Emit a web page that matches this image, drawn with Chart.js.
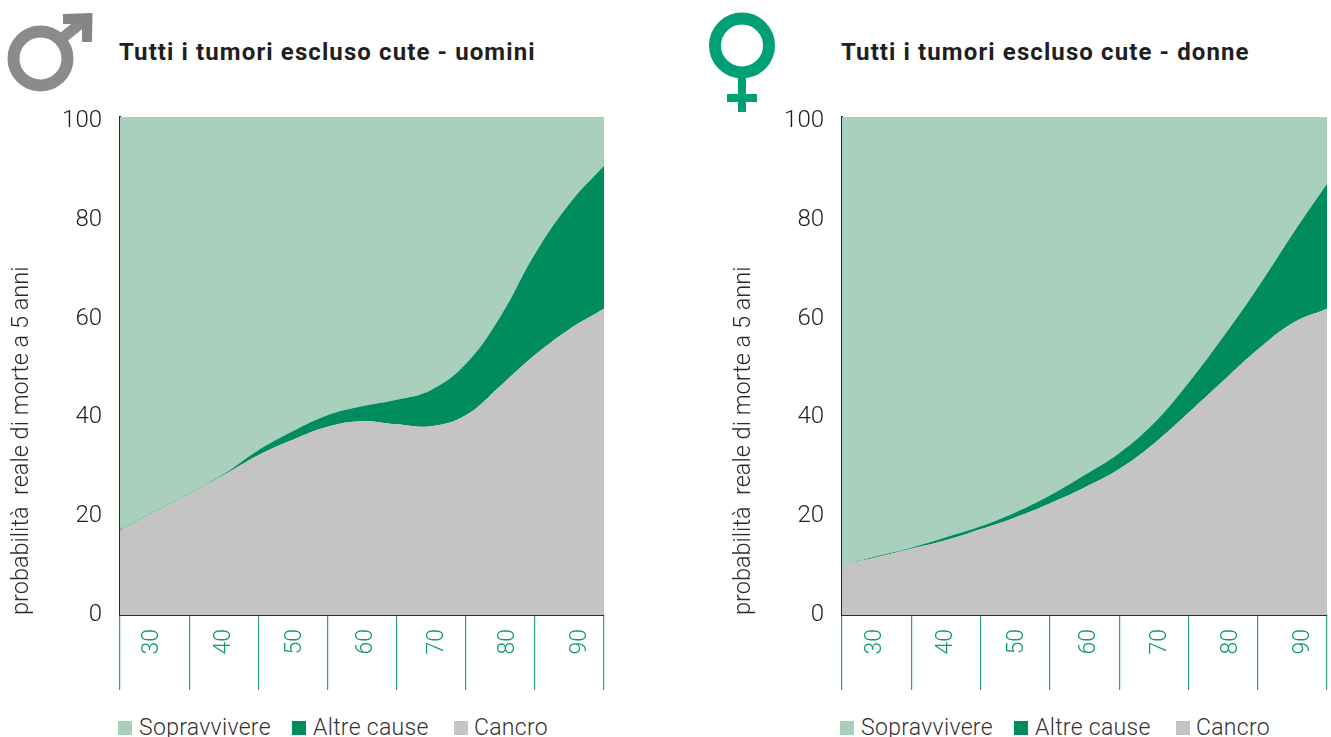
<!DOCTYPE html>
<html>
<head>
<meta charset="utf-8">
<script src="https://cdn.jsdelivr.net/npm/chart.js@4"></script>
<style>
html, body { margin: 0; padding: 0; background: #fff; overflow: hidden; }
body { width: 1331px; height: 737px; position: relative; font-family: Roboto, sans-serif; color: #222; }
canvas, svg, .title, .legend { position: absolute; }
#chartU { left: 1px; top: 0; }
#chartD { left: 723px; top: 0; }
svg { left: 0; top: 0; }
.title { top: 37px; font-size: 24px; font-weight: 700; letter-spacing: 1.1px; white-space: nowrap; line-height: 30px; color: #1f1f1f; }
.legend { top: 713px; font-size: 23px; font-weight: 300; white-space: nowrap; line-height: 30px; color: #333; letter-spacing: 0.3px; }
.legend i { position: absolute; top: 8px; width: 14px; height: 14px; }
.legend span { position: absolute; top: 0; }
</style>
</head>
<body>
<svg width="1331" height="737">
  <!-- male symbol -->
  <g fill="none" stroke="#8a8b8d" stroke-width="12">
    <circle cx="40.5" cy="58.5" r="27"/>
    <line x1="60" y1="40" x2="86" y2="19" stroke-width="11"/>
  </g>
  <polygon points="63,14 92.5,13 92,42 82,42 82,24 63,24" fill="#858684"/>
  <!-- female symbol -->
  <circle cx="742" cy="45.5" r="27" fill="none" stroke="#00a077" stroke-width="12"/>
  <rect x="738" y="78" width="8" height="34" fill="#00a077"/>
  <rect x="727" y="94" width="30" height="8" fill="#00a077"/>
</svg>

<div class="title" style="left:119px">Tutti i tumori escluso cute - uomini</div>
<div class="title" style="left:841px">Tutti i tumori escluso cute - donne</div>

<canvas id="chartU" width="610" height="690" style="width:610px;height:690px"></canvas>
<canvas id="chartD" width="611" height="690" style="width:611px;height:690px"></canvas>

<div class="legend" id="legendU" style="left:0"></div>
<div class="legend" id="legendD" style="left:0"></div>

<script>
const ages = [25, 30, 35, 40, 45, 50, 55, 60, 65, 70, 75, 80, 85, 90, 95];
const ageTicks = [25, 35, 45, 55, 65, 75, 85, 95];
const ageLabels = [30, 40, 50, 60, 70, 80, 90];
const yTicks = [0, 20, 40, 60, 80, 100];

const cancroU = [17.0, 20.7, 24.3, 28.1, 32.1, 35.2, 37.8, 38.9, 38.3, 37.9, 40.1, 46.0, 52.2, 57.4, 61.5];
const altreU = [0.1, 0.1, 0.1, 0.2, 1.0, 1.7, 2.3, 3.0, 4.9, 7.3, 10.3, 13.9, 20.3, 25.2, 28.7];
const soprU = [82.9, 79.2, 75.6, 71.7, 66.9, 63.1, 59.9, 58.1, 56.8, 54.8, 49.6, 40.1, 27.5, 17.4, 9.8];

const cancroD = [10.0, 11.6, 13.3, 15.0, 17.2, 19.6, 22.4, 25.6, 29.3, 34.4, 40.6, 47.0, 53.3, 58.6, 61.5];
const altreD = [0, 0.2, 0.2, 0.6, 0.6, 1.0, 1.6, 2.5, 3.2, 4.1, 6.0, 8.8, 12.4, 17.8, 25.1];
const soprD = [90.0, 88.2, 86.5, 84.4, 82.2, 79.4, 76.0, 71.9, 67.5, 61.5, 53.4, 44.2, 34.3, 23.6, 13.4];

const yTitle = 'probabilità  reale di morte a 5 anni';
const legendNames = ['Sopravvivere', 'Altre cause', 'Cancro'];
const legendColors = ['#a8d0bd', '#008c5f', '#c4c4c4'];

function series(label, values, color, fill){
  return {
    label: label,
    data: values.map((v, i) => ({ x: ages[i], y: v })),
    backgroundColor: color,
    borderWidth: 0,
    pointRadius: 0,
    fill: fill,
    tension: 0.4,
    xAxisID: 'x',
    yAxisID: 'y'
  };
}

function noSidePadding(s){
  s.paddingLeft = 0;
  s.paddingRight = 0;
}

function chartSetup(id, cancro, altre, sopr){
  new Chart(document.getElementById(id), {
    type: 'line',
    data: {
      datasets: [
        series('Cancro', cancro, '#c4c4c4', 'origin'),
        series('Altre cause', altre, '#008c5f', '-1'),
        series('Sopravvivere', sopr, '#a8d0bd', '-1')
      ]
    },
    options: {
      responsive: false,
      animation: false,
      layout: { padding: { top: 117, right: 7, left: 0, bottom: 0 } },
      plugins: { legend: { display: false }, tooltip: { enabled: false } },
      scales: {
        x: {
          type: 'linear',
          position: 'bottom',
          weight: 0,
          min: 25,
          max: 95,
          afterBuildTicks: s => { s.ticks = ageTicks.map(v => ({ value: v })); },
          afterFit: s => { s.height = 0; noSidePadding(s); },
          ticks: { display: false },
          grid: { drawOnChartArea: false, color: '#2f9f7c', lineWidth: 1.2, tickLength: 75 },
          border: { color: '#2a2a2a', width: 2 }
        },
        // labels sit at their own spacing in the original, not centred on the cells
        xLabels: {
          type: 'linear',
          position: 'bottom',
          weight: 1,
          min: 25.4,
          max: 93.4,
          afterBuildTicks: s => { s.ticks = ageLabels.map(v => ({ value: v })); },
          afterFit: s => { s.height = 75; noSidePadding(s); },
          ticks: {
            minRotation: 90,
            maxRotation: 90,
            padding: 14,
            color: '#0f9a6b',
            font: { family: 'Roboto', size: 23, weight: 300 }
          },
          grid: { display: false, drawTicks: false },
          border: { display: false }
        },
        y: {
          stacked: true,
          weight: 0,
          min: 0,
          max: 100,
          afterBuildTicks: s => { s.ticks = yTicks.map(v => ({ value: v })); },
          afterFit: s => { s.width = 0; },
          ticks: { display: false },
          grid: { drawOnChartArea: false, drawTicks: false },
          border: { color: '#2a2a2a', width: 2 }
        },
        // the printed numbers run a little tighter than the plot height
        yLabels: {
          position: 'left',
          weight: 1,
          min: 0,
          max: 100.8,
          afterBuildTicks: s => { s.ticks = yTicks.map(v => ({ value: v })); },
          afterFit: s => { s.width = 119; },
          ticks: {
            padding: 18,
            color: '#1f1f1f',
            font: { family: 'Roboto', size: 24, weight: 300 }
          },
          grid: { display: false, drawTicks: false },
          border: { display: false },
          title: {
            display: true,
            text: yTitle,
            align: 'start',
            color: '#2b2b2b',
            font: { family: 'Roboto', size: 23.5, weight: 300 },
            padding: { top: 7, bottom: 0 }
          }
        }
      }
    }
  });
}

function legendSetup(id, offset){
  const swatchX = [118, 292, 454];
  const textX = [139, 313, 474];
  const box = document.getElementById(id);
  legendNames.forEach((name, i) => {
    const sw = document.createElement('i');
    sw.style.left = (offset + swatchX[i]) + 'px';
    sw.style.background = legendColors[i];
    const tx = document.createElement('span');
    tx.style.left = (offset + textX[i]) + 'px';
    tx.textContent = name;
    box.appendChild(sw);
    box.appendChild(tx);
  });
}

chartSetup('chartU', cancroU, altreU, soprU);
chartSetup('chartD', cancroD, altreD, soprD);
legendSetup('legendU', 0);
legendSetup('legendD', 722);
</script>
</body>
</html>
